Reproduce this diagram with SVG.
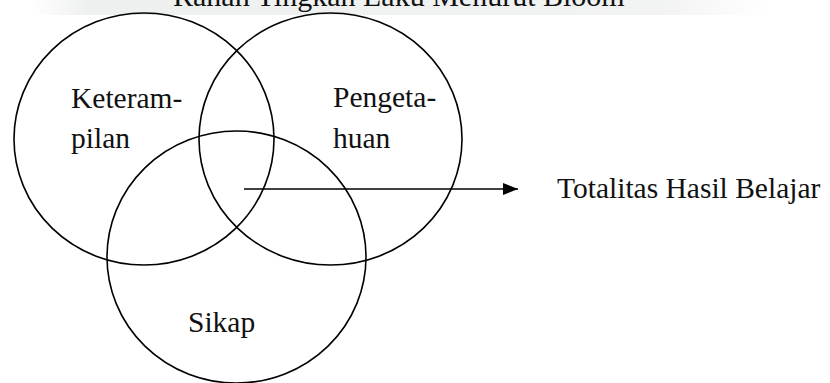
<svg xmlns="http://www.w3.org/2000/svg" width="830" height="383" viewBox="0 0 830 383">
<style>
.c{fill:none;stroke:#000;stroke-width:1.6}
.t{font-family:"Liberation Serif","Times New Roman",serif;font-size:29.5px;fill:#111}
</style>
<defs>
<linearGradient id="band" x1="0" x2="1" y1="0" y2="0">
<stop offset="0" stop-color="#eef0ef" stop-opacity="0"/>
<stop offset="0.08" stop-color="#eef0ef" stop-opacity="1"/>
<stop offset="0.85" stop-color="#eef0ef" stop-opacity="0.8"/>
<stop offset="1" stop-color="#eef0ef" stop-opacity="0"/>
</linearGradient>
<marker id="ah" markerWidth="16" markerHeight="12" refX="15" refY="6" orient="auto" markerUnits="userSpaceOnUse">
<path d="M0,0 L15,6 L0,12 Z" fill="#000"/>
</marker>
</defs>
<rect width="830" height="383" fill="#fff"/>
<rect x="30" y="0" width="740" height="15" fill="url(#band)"/>
<text class="t" x="173" y="6" style="font-size:30px">Ranah Tingkah Laku Menurut Bloom</text>
<g id="keterampilan">
<ellipse class="c" cx="144" cy="139" rx="130" ry="126"/>
<text class="t" x="71" y="108">Keteram-</text>
<text class="t" x="71" y="148">pilan</text>
</g>
<g id="pengetahuan">
<ellipse class="c" cx="330.5" cy="139" rx="131.5" ry="126"/>
<text class="t" x="333" y="107">Pengeta-</text>
<text class="t" x="333" y="148">huan</text>
</g>
<g id="sikap">
<ellipse class="c" cx="236.5" cy="257" rx="129.5" ry="126"/>
<text class="t" x="188" y="332">Sikap</text>
</g>
<g id="totalitas">
<text class="t" x="557" y="198">Totalitas Hasil Belajar</text>
</g>
<g id="connectors">
<line x1="244" y1="189" x2="518" y2="189" stroke="#000" stroke-width="1.6" marker-end="url(#ah)"/>
</g>
</svg>
